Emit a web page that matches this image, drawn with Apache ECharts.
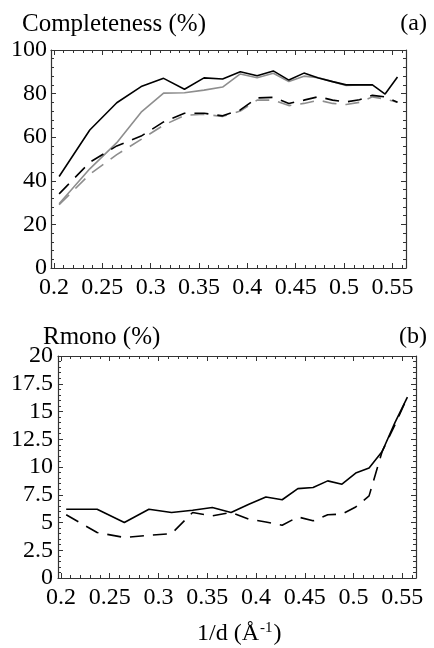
<!DOCTYPE html>
<html>
<head>
<meta charset="utf-8">
<script src="https://cdn.jsdelivr.net/npm/echarts@6/dist/echarts.min.js"></script>
<style>
  html, body { margin: 0; padding: 0; background: #fff; }
  #chart { width: 434px; height: 648px; }
</style>
</head>
<body>
<div id="chart"></div>
<script>
// resolution shells, 1/d (Å^-1)
var invD = [0.2054, 0.2371, 0.2650, 0.2902, 0.3134, 0.3350, 0.3552, 0.3744, 0.3927, 0.4101,
            0.4268, 0.4429, 0.4585, 0.4735, 0.4881, 0.5022, 0.5159, 0.5293, 0.5424, 0.5552];

// (a) completeness, %
var complBlack     = [42, 63.3, 75.8, 83.2, 87.0, 82.0, 87.2, 86.7, 90.0, 88.2,
                      90.4, 86.2, 89.4, 87.2, 85.5, 84.0, 84.0, 84.0, 79.8, 87.6];
var complGray      = [29.5, 45.5, 57.5, 71.5, 80.2, 80.4, 81.6, 83.0, 89.0, 87.3,
                      89.3, 85.5, 88.0, 87.3, 85.5, 83.7, 84.0, 84.0];
var complBlackDash = [34, 48.5, 56, 60.5, 67, 71, 71, 69.8, 72.5, 78,
                      78.3, 75.5, 77, 78.6, 77, 76.2, 77.2, 79.2, 78.5, 76];
var complGrayDash  = [29, 43, 52, 59, 65.5, 70, 70.5, 69.5, 72, 77,
                      77, 74.5, 75.5, 77, 75.5, 75, 76, 78.5, 77.5, 76];

// (b) Rmono, %
var rmonoSolid = [6.2, 6.2, 5.0, 6.2, 5.9, 6.1, 6.35, 5.9, 6.65, 7.3,
                  7.05, 8.05, 8.15, 8.75, 8.45, 9.45, 9.9, 11.4, 14.0, 16.3];
var rmonoDash  = [5.7, 4.1, 3.65, 3.85, 4.0, 5.9, 5.6, 5.9, 5.3, 5.05,
                  4.75, 5.5, 5.15, 5.7, 5.75, 6.4, 7.4, 11.4, 13.8, 16.3];

var xMajor = [0.2, 0.25, 0.3, 0.35, 0.4, 0.45, 0.5, 0.55];
var xMinor = [0.21, 0.22, 0.23, 0.24, 0.26, 0.27, 0.28, 0.29, 0.31, 0.32, 0.33, 0.34,
              0.36, 0.37, 0.38, 0.39, 0.41, 0.42, 0.43, 0.44, 0.46, 0.47, 0.48, 0.49,
              0.51, 0.52, 0.53, 0.54, 0.56];

var FONT = '"Liberation Serif", "DejaVu Serif", serif';
var AXIS_COLOR = '#333';
var GRAY = '#8e8e8e';

function pairs(ys) {
    return ys.map(function (y, i) { return [invD[i], y]; });
}

function xAxes(gridIndex, labelMargin) {
    var base = {
        gridIndex: gridIndex, type: 'value', min: 0.197, max: 0.564,
        splitLine: {show: false}
    };
    return [
        Object.assign({}, base, {
            position: 'bottom',
            axisLine: {show: true, lineStyle: {color: AXIS_COLOR, width: 1.2}},
            axisTick: {show: true, inside: true, length: 5, customValues: xMajor,
                       lineStyle: {color: AXIS_COLOR}},
            axisLabel: {show: true, customValues: xMajor, margin: labelMargin,
                        fontFamily: FONT, fontSize: 24, color: '#000'}
        }),
        Object.assign({}, base, {
            position: 'bottom',
            axisLine: {show: false},
            axisTick: {show: true, inside: true, length: 3, customValues: xMinor,
                       lineStyle: {color: AXIS_COLOR}},
            axisLabel: {show: false}
        }),
        Object.assign({}, base, {
            position: 'top',
            axisLine: {show: true, lineStyle: {color: AXIS_COLOR, width: 1.2}},
            axisTick: {show: true, inside: true, length: 5, customValues: xMajor,
                       lineStyle: {color: AXIS_COLOR}},
            axisLabel: {show: false}
        }),
        Object.assign({}, base, {
            position: 'top',
            axisLine: {show: false},
            axisTick: {show: true, inside: true, length: 3, customValues: xMinor,
                       lineStyle: {color: AXIS_COLOR}},
            axisLabel: {show: false}
        })
    ];
}

function yAxes(gridIndex, max, interval, labelMargin) {
    var base = {
        gridIndex: gridIndex, type: 'value', min: 0, max: max, interval: interval,
        splitLine: {show: false},
        axisLine: {show: true, lineStyle: {color: AXIS_COLOR, width: 1.2}},
        axisTick: {show: true, inside: true, length: 5, lineStyle: {color: AXIS_COLOR}},
        minorTick: {show: true, splitNumber: 5, length: 3, lineStyle: {color: AXIS_COLOR}}
    };
    return [
        Object.assign({}, base, {
            position: 'left',
            axisLabel: {margin: labelMargin, fontFamily: FONT, fontSize: 24, color: '#000'}
        }),
        Object.assign({}, base, {
            position: 'right',
            axisLabel: {show: false}
        })
    ];
}

function line(name, ys, x, y, color, dashed) {
    return {
        name: name, type: 'line', xAxisIndex: x, yAxisIndex: y,
        data: pairs(ys), showSymbol: false, symbol: 'none',
        silent: true, animation: false,
        lineStyle: {color: color, width: 1.6, type: dashed ? [14, 9] : 'solid'}
    };
}

var myChart = echarts.init(document.getElementById('chart'));

myChart.setOption({
    animation: false,
    backgroundColor: '#fff',
    grid: [
        {left: 51, top: 50, width: 355, height: 218},
        {left: 58, top: 356, width: 358, height: 222}
    ],
    xAxis: xAxes(0, 8).concat(xAxes(1, 8)),
    yAxis: yAxes(0, 100, 20, 4).concat(yAxes(1, 20, 2.5, 5)),
    series: [
        line('gray dashed', complGrayDash, 0, 0, GRAY, true),
        line('gray', complGray, 0, 0, GRAY, false),
        line('black dashed', complBlackDash, 0, 0, '#000', true),
        line('black', complBlack, 0, 0, '#000', false),
        line('Rmono dashed', rmonoDash, 4, 2, '#000', true),
        line('Rmono', rmonoSolid, 4, 2, '#000', false)
    ],
    graphic: [
        {type: 'text', left: 22, top: 12,
         style: {text: 'Completeness (%)', font: '25px ' + FONT, fill: '#000'}},
        {type: 'text', right: 7, top: 12,
         style: {text: '(a)', font: '24px ' + FONT, fill: '#000'}},
        {type: 'text', left: 43, top: 325,
         style: {text: 'Rmono (%)', font: '25px ' + FONT, fill: '#000'}},
        {type: 'text', right: 7, top: 325,
         style: {text: '(b)', font: '24px ' + FONT, fill: '#000'}},
        {type: 'text', left: 197, top: 621,
         style: {
             text: '{a|1/d (Å}{s|-1}{a|)}',
             rich: {
                 a: {font: '24px ' + FONT, fill: '#000', verticalAlign: 'bottom'},
                 s: {font: '15px ' + FONT, fill: '#000', verticalAlign: 'top', padding: [0, 1, 10, 1]}
             }
         }}
    ]
});
</script>
</body>
</html>
